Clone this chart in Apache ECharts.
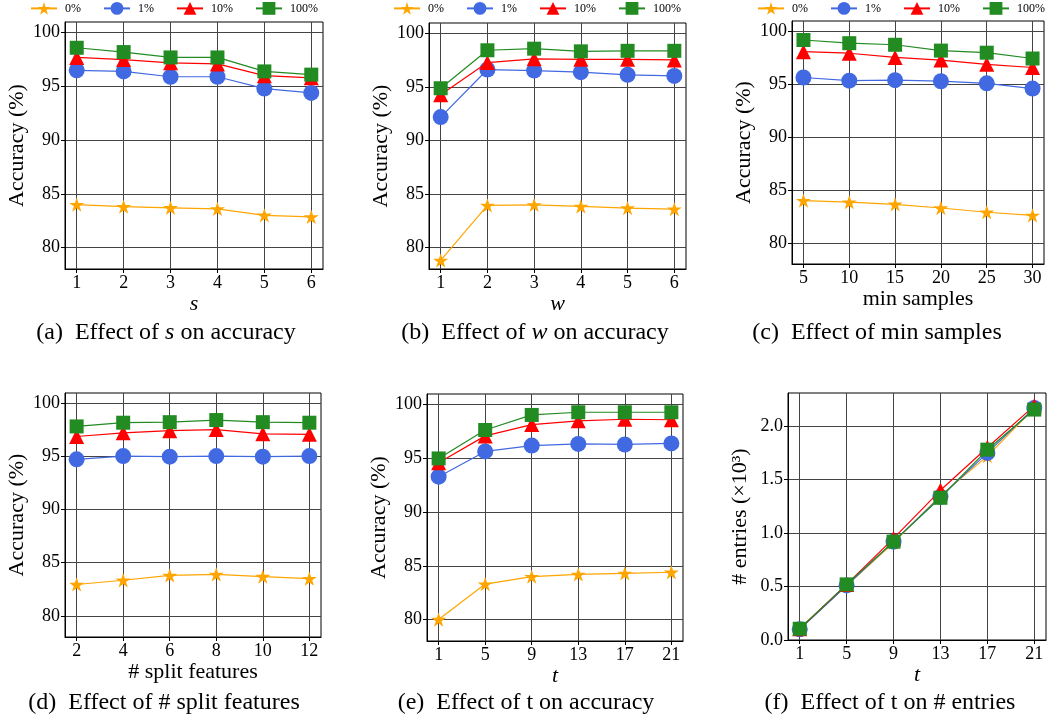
<!DOCTYPE html>
<html>
<head>
<meta charset="utf-8">
<script src="https://cdn.jsdelivr.net/npm/echarts@6/dist/echarts.min.js"></script>
<style>
html, body { margin: 0; padding: 0; background: #fff; }
#main { width: 1047px; height: 720px; }
</style>
</head>
<body>
<div id="main"></div>
<script>
// series names (legend order)
var seriesNames = ['0%', '1%', '10%', '100%'];

// (a) effect of s
var aX = [1, 2, 3, 4, 5, 6];
var aP0 = [84.0, 83.8, 83.7, 83.6, 83.0, 82.85];
var aP1 = [96.5, 96.4, 95.9, 95.9, 94.8, 94.4];
var aP10 = [97.7, 97.5, 97.2, 97.1, 96.0, 95.8];
var aP100 = [98.6, 98.2, 97.7, 97.7, 96.4, 96.1];

// (b) effect of w
var bX = [1, 2, 3, 4, 5, 6];
var bP0 = [78.8, 83.95, 84.0, 83.85, 83.7, 83.6];
var bP1 = [92.2, 96.65, 96.55, 96.4, 96.15, 96.05];
var bP10 = [94.3, 97.3, 97.65, 97.6, 97.6, 97.55];
var bP100 = [94.9, 98.45, 98.6, 98.35, 98.4, 98.4];

// (c) effect of min samples
var cX = [5, 10, 15, 20, 25, 30];
var cP0 = [84.0, 83.85, 83.65, 83.3, 82.9, 82.6];
var cP1 = [95.65, 95.35, 95.4, 95.3, 95.1, 94.6];
var cP10 = [98.1, 97.95, 97.55, 97.3, 96.9, 96.6];
var cP100 = [99.2, 98.9, 98.75, 98.2, 98.0, 97.45];

// (d) effect of # split features
var dX = [2, 4, 6, 8, 10, 12];
var dP0 = [82.95, 83.35, 83.8, 83.9, 83.7, 83.5];
var dP1 = [94.75, 95.05, 95.0, 95.05, 95.0, 95.05];
var dP10 = [96.9, 97.25, 97.45, 97.55, 97.15, 97.1];
var dP100 = [97.85, 98.2, 98.25, 98.45, 98.25, 98.2];

// (e) effect of t on accuracy
var eX = [1, 5, 9, 13, 17, 21];
var eP0 = [80.0, 83.3, 84.0, 84.2, 84.3, 84.4];
var eP1 = [93.3, 95.65, 96.2, 96.35, 96.3, 96.4];
var eP10 = [94.6, 97.1, 98.15, 98.5, 98.65, 98.6];
var eP100 = [95.0, 97.65, 99.05, 99.3, 99.3, 99.3];

// (f) effect of t on # entries (x10^3)
var fX = [1, 5, 9, 13, 17, 21];
var fP0 = [0.105, 0.51, 0.91, 1.35, 1.72, 2.17];
var fP1 = [0.10, 0.51, 0.92, 1.34, 1.75, 2.17];
var fP10 = [0.105, 0.52, 0.95, 1.40, 1.80, 2.19];
var fP100 = [0.105, 0.52, 0.92, 1.33, 1.78, 2.155];

// tick labels
var accTicks = [80, 85, 90, 95, 100];
var entryTicks = [0, 0.5, 1.0, 1.5, 2.0];

var FONT = '"Liberation Serif", "Times New Roman", serif';
var STAR = 'path://M0 -1 L0.2245 -0.309 L0.951 -0.309 L0.363 0.118 L0.588 0.809 L0 0.382 L-0.588 0.809 L-0.363 0.118 L-0.951 -0.309 L-0.2245 -0.309 Z';

var look = {
    '0%':   { color: '#FFA500', symbol: STAR, size: 15 },
    '1%':   { color: '#4169E1', symbol: 'circle', size: 16 },
    '10%':  { color: '#FF0000', symbol: 'triangle', size: 15 },
    '100%': { color: '#228B22', symbol: 'rect', size: 14 }
};

var panels = [
    { x: aX, ys: [aP0, aP1, aP10, aP100], xr: [0.75, 6.25], yr: [78, 101], yt: accTicks, xName: 's', xIt: true, yName: 'Accuracy (%)',
      grid: [65, 22, 258, 247] },
    { x: bX, ys: [bP0, bP1, bP10, bP100], xr: [0.75, 6.25], yr: [78, 101], yt: accTicks, xName: 'w', xIt: true, yName: 'Accuracy (%)',
      grid: [429, 23, 257, 246] },
    { x: cX, ys: [cP0, cP1, cP10, cP100], xr: [3.75, 31.25], yr: [78, 101], yt: accTicks, xName: 'min samples', xIt: false, yName: 'Accuracy (%)',
      grid: [792, 21, 252, 243] },
    { x: dX, ys: [dP0, dP1, dP10, dP100], xr: [1.5, 12.5], yr: [78, 101], yt: accTicks, xName: '# split features', xIt: false, yName: 'Accuracy (%)',
      grid: [65, 393, 256, 244] },
    { x: eX, ys: [eP0, eP1, eP10, eP100], xr: [0, 22], yr: [78, 101], yt: accTicks, xName: 't', xIt: true, yName: 'Accuracy (%)',
      grid: [427, 394, 256, 247] },
    { x: fX, ys: [fP0, fP1, fP10, fP100], xr: [0, 22], yr: [0, 2.31], yt: entryTicks, xName: 't', xIt: true, yName: '# entries (\u00d710\u00b3)',
      grid: [788, 393, 258, 247], fmt: function (v) { return v.toFixed(1); } }
];

var grids = [], xAxes = [], yAxes = [], series = [];
var drawOrder = [1, 2, 3, 0];

panels.forEach(function (p, i) {
    grids.push({
        left: p.grid[0], top: p.grid[1], width: p.grid[2], height: p.grid[3],
        show: true, borderColor: '#000', borderWidth: 1, backgroundColor: 'transparent'
    });
    xAxes.push({
        type: 'value', gridIndex: i, min: p.xr[0], max: p.xr[1],
        name: p.xName, nameLocation: 'middle', nameGap: 21,
        nameTextStyle: { fontFamily: FONT, fontSize: 22, color: '#000', fontStyle: p.xIt ? 'italic' : 'normal' },
        axisLine: { show: true, onZero: false, lineStyle: { color: '#000', width: 1 } },
        axisTick: { show: true, length: 4, lineStyle: { color: '#000' }, customValues: p.x },
        axisLabel: { fontFamily: FONT, fontSize: 18, color: '#000', margin: 5, customValues: p.x },
        splitLine: { show: true, lineStyle: { color: '#444', width: 1 } }
    });
    yAxes.push({
        type: 'value', gridIndex: i, min: p.yr[0], max: p.yr[1],
        name: p.yName, nameLocation: 'middle', nameGap: 37, nameRotate: 90,
        nameTextStyle: { fontFamily: FONT, fontSize: 22, color: '#000' },
        axisLine: { show: true, lineStyle: { color: '#000', width: 1 } },
        axisTick: { show: true, length: 4, lineStyle: { color: '#000' }, customValues: p.yt },
        axisLabel: { fontFamily: FONT, fontSize: 18, color: '#000', margin: 5, customValues: p.yt,
                     formatter: p.fmt || function (v) { return String(v); } },
        splitLine: { show: true, lineStyle: { color: '#444', width: 1 } }
    });
    drawOrder.forEach(function (k) {
        var name = seriesNames[k];
        var lk = look[name];
        series.push({
            name: name, type: 'line', xAxisIndex: i, yAxisIndex: i,
            data: p.x.map(function (xv, j) { return [xv, p.ys[k][j]]; }),
            symbol: lk.symbol, symbolSize: lk.size, symbolKeepAspect: true,
            itemStyle: { color: lk.color },
            lineStyle: { color: lk.color, width: 1.2 },
            z: 2 + k,
            animation: false
        });
    });
});

function legendAt(left) {
    return {
        left: left, top: 2, width: 330, padding: 0, itemWidth: 26, itemHeight: 16, itemGap: 22,
        data: seriesNames, selectedMode: false,
        textStyle: { fontFamily: FONT, fontSize: 12, color: '#000', padding: [0, 0, 0, 3] }
    };
}

var captions = [
    { x: 166, y: 333, text: '(a)\u2002Effect of {i|s} on accuracy' },
    { x: 535, y: 333, text: '(b)\u2002Effect of {i|w} on accuracy' },
    { x: 877, y: 333, text: '(c)\u2002Effect of min samples' },
    { x: 164, y: 703, text: '(d)\u2002Effect of # split features' },
    { x: 526, y: 703, text: '(e)\u2002Effect of t on accuracy' },
    { x: 890, y: 703, text: '(f)\u2002Effect of t on # entries' }
];

var chart = echarts.init(document.getElementById('main'));
chart.setOption({
    backgroundColor: '#fff',
    animation: false,
    legend: [legendAt(30), legendAt(393), legendAt(757)],
    grid: grids,
    xAxis: xAxes,
    yAxis: yAxes,
    series: series,
    graphic: captions.map(function (c) {
        return {
            type: 'text', x: c.x, y: c.y,
            style: {
                text: c.text, fill: '#000', fontFamily: FONT, fontSize: 24,
                align: 'center', verticalAlign: 'middle',
                rich: { i: { fontFamily: FONT, fontSize: 24, fontStyle: 'italic' } }
            }
        };
    })
});
</script>
</body>
</html>
